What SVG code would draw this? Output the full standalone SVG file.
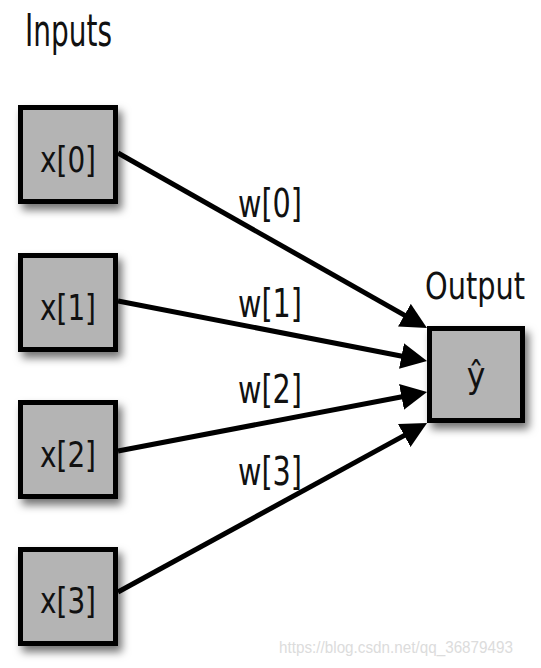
<svg xmlns="http://www.w3.org/2000/svg" width="541" height="668" viewBox="0 0 541 668">
<style>
.box{fill:#b4b4b4;stroke:#000;stroke-width:5;filter:url(#sh)}
.lbl{font-family:"Liberation Sans Narrow","DejaVu Sans Condensed","Liberation Sans",sans-serif;fill:#111}
.conn{stroke:#000;stroke-width:5;fill:none;marker-end:url(#ah)}
.wm{font-family:"Liberation Sans",Arial,sans-serif;font-size:17px;fill:#dcdcdc}
</style>
<defs>
<filter id="sh" x="-20%" y="-20%" width="150%" height="150%">
<feDropShadow dx="4" dy="6" stdDeviation="4" flood-color="#000" flood-opacity="0.55"/>
</filter>
<marker id="ah" markerUnits="userSpaceOnUse" markerWidth="26" markerHeight="26" refX="6" refY="13" orient="auto">
<path d="M0,0 L26,13 L0,26 z" fill="#000"/>
</marker>
</defs>
<rect width="541" height="668" fill="#fff"/>
<text class="lbl" x="25" y="46" font-size="44" textLength="87" lengthAdjust="spacingAndGlyphs">Inputs</text>
<text class="lbl" x="425" y="299" font-size="37" textLength="100" lengthAdjust="spacingAndGlyphs">Output</text>
<g id="connectors">
<line class="conn" x1="118" y1="153" x2="409.6" y2="318.1"/>
<line class="conn" x1="118" y1="301" x2="407.4" y2="357.2"/>
<line class="conn" x1="118" y1="451" x2="407.4" y2="395.75"/>
<line class="conn" x1="118" y1="592" x2="409.5" y2="432.6"/>
<text class="lbl" x="238" y="217" font-size="39" textLength="64" lengthAdjust="spacingAndGlyphs">w[0]</text>
<text class="lbl" x="238" y="317" font-size="39" textLength="64" lengthAdjust="spacingAndGlyphs">w[1]</text>
<text class="lbl" x="238" y="403" font-size="39" textLength="64" lengthAdjust="spacingAndGlyphs">w[2]</text>
<text class="lbl" x="238" y="485" font-size="39" textLength="64" lengthAdjust="spacingAndGlyphs">w[3]</text>
</g>
<g id="x0"><rect class="box" x="20.5" y="107.5" width="95" height="94"/><text class="lbl" x="40" y="172" font-size="35" textLength="56" lengthAdjust="spacingAndGlyphs">x[0]</text></g>
<g id="x1"><rect class="box" x="20.5" y="255.5" width="95" height="94"/><text class="lbl" x="40" y="320" font-size="35" textLength="56" lengthAdjust="spacingAndGlyphs">x[1]</text></g>
<g id="x2"><rect class="box" x="20.5" y="402.5" width="95" height="94"/><text class="lbl" x="40" y="467" font-size="35" textLength="56" lengthAdjust="spacingAndGlyphs">x[2]</text></g>
<g id="x3"><rect class="box" x="20.5" y="549.5" width="95" height="94"/><text class="lbl" x="40" y="613" font-size="35" textLength="56" lengthAdjust="spacingAndGlyphs">x[3]</text></g>
<g id="output"><rect class="box" x="429.5" y="328.5" width="93" height="92"/><text class="lbl" x="476" y="388" font-size="35" text-anchor="middle">ŷ</text></g>
<text class="wm" x="279" y="653" textLength="234" lengthAdjust="spacingAndGlyphs">https://blog.csdn.net/qq_36879493</text>
</svg>
